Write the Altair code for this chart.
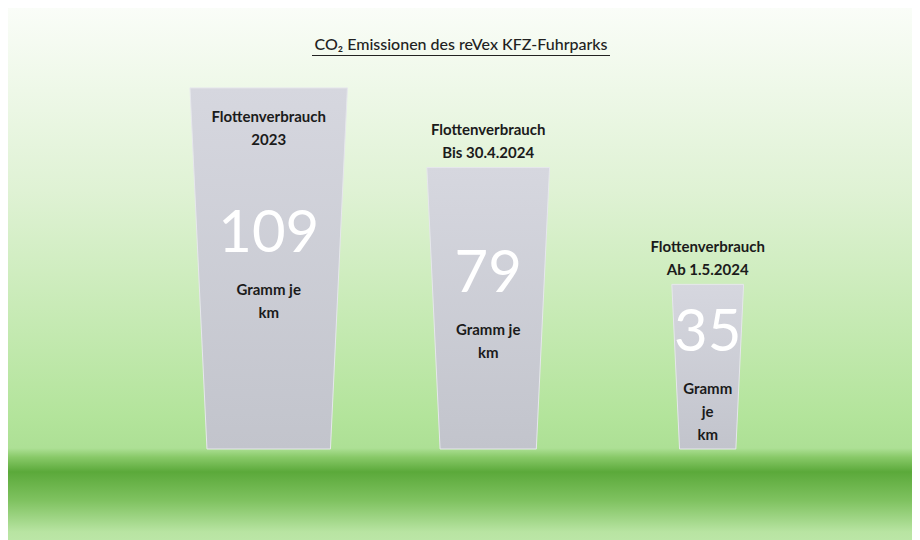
import altair as alt
import pandas as pd

# ---- data ----
categories = ["Flottenverbrauch\n2023", "Flottenverbrauch\nBis 30.4.2024", "Flottenverbrauch\nAb 1.5.2024"]
values = [109, 79, 35]
units = ["Gramm je\nkm", "Gramm je\nkm", "Gramm\nje\nkm"]
title_text = "CO\u2082 Emissionen des reVex KFZ-Fuhrparks"

df = pd.DataFrame({"cat": categories, "v": values, "unit": units})

W, H = 904, 540
BASE = -27  # value at which the pictogram pillars stand

xscale = alt.Scale(type="point", domain=categories, range=[260.7, 699.7], padding=0)
yscale = alt.Scale(domain=[-64.29, 139.1], nice=False, zero=False)

# background gradient
bg = alt.Chart(alt.Data(values=[{"a": 1}])).mark_rect(
    fill=alt.Gradient(
        gradient="linear", x1=0, y1=0, x2=0, y2=1,
        stops=[
            alt.GradientStop(offset=0.0, color="#fafdf8"),
            alt.GradientStop(offset=0.34, color="#dff2d4"),
            alt.GradientStop(offset=0.757, color="#b3e49b"),
            alt.GradientStop(offset=0.815, color="#ade095"),
            alt.GradientStop(offset=0.832, color="#88c968"),
            alt.GradientStop(offset=0.859, color="#5ba93a"),
            alt.GradientStop(offset=0.912, color="#7fc260"),
            alt.GradientStop(offset=0.97, color="#b8e4a2"),
            alt.GradientStop(offset=1.0, color="#bfe8aa"),
        ],
    )
).encode(x=alt.value(0), x2=alt.value(W), y=alt.value(0), y2=alt.value(H))

base = alt.Chart(df).transform_calculate(
    base=str(BASE),
    h=f"datum.v - ({BASE})",
    mid=f"(datum.v + ({BASE})) / 2",
)

pillar_path = "M -0.436 -2 L 0.436 -2 L 0.342 0 L -0.342 0 Z"

pillars = base.mark_point(
    shape=pillar_path,
    filled=True,
    opacity=1,
    fill=alt.Gradient(
        gradient="linear", x1=0, y1=0, x2=0, y2=1,
        stops=[
            alt.GradientStop(offset=0.0, color="#d6d7df"),
            alt.GradientStop(offset=1.0, color="#c2c4cc"),
        ],
    ),
    stroke="#e6e7ec",
    strokeWidth=1,
).encode(
    x=alt.X("cat:N", scale=xscale, axis=None),
    y=alt.Y("base:Q", scale=yscale, axis=None),
    size=alt.Size("h:Q", scale=alt.Scale(type="pow", exponent=2, domain=[0, 100], range=[0, 70490]), legend=None),
)

label_font = "Lato"

labels_inside = base.transform_joinaggregate(vmax="max(v)").transform_filter(
    "datum.v == datum.vmax"
).mark_text(
    font=label_font, fontSize=15, fontWeight="bold", color="#1b1b1b",
    lineBreak="\n", lineHeight=23, baseline="middle", dy=29.5,
).encode(
    x=alt.X("cat:N", scale=xscale, axis=None),
    y=alt.Y("v:Q", scale=yscale, axis=None),
    text="cat:N",
)

labels_above = base.transform_joinaggregate(vmax="max(v)").transform_filter(
    "datum.v < datum.vmax"
).mark_text(
    font=label_font, fontSize=15, fontWeight="bold", color="#1b1b1b",
    lineBreak="\n", lineHeight=23, baseline="middle", dy=-37.5,
).encode(
    x=alt.X("cat:N", scale=xscale, axis=None),
    y=alt.Y("v:Q", scale=yscale, axis=None),
    text="cat:N",
)

numbers = base.mark_text(
    font="Lato", fontSize=58, color="#ffffff", baseline="middle", dy=-33,
).encode(
    x=alt.X("cat:N", scale=xscale, axis=None),
    y=alt.Y("mid:Q", scale=yscale, axis=None),
    text="v:Q",
)

unit_text = base.mark_text(
    font=label_font, fontSize=15, fontWeight="bold", color="#1b1b1b",
    lineBreak="\n", lineHeight=23, baseline="middle", dy=22,
).encode(
    x=alt.X("cat:N", scale=xscale, axis=None),
    y=alt.Y("mid:Q", scale=yscale, axis=None),
    text="unit:N",
)

title = alt.Chart(alt.Data(values=[{"t": title_text}])).mark_text(
    font="Lato", fontSize=16, fontWeight=500, color="#222222", baseline="alphabetic", align="center",
).encode(x=alt.value(453), y=alt.value(42), text="t:N")

underline = alt.Chart(alt.Data(values=[{"a": 1}])).mark_rule(
    color="#222222", strokeWidth=1
).encode(x=alt.value(304), x2=alt.value(602), y=alt.value(47.5))

chart = alt.layer(
    bg, pillars, labels_inside, labels_above, numbers, unit_text, title, underline
).resolve_scale(x="shared", y="shared").properties(
    width=W, height=H,
    autosize=alt.AutoSizeParams(type="none"),
    padding=0,
    background="#ffffff",
).configure_view(stroke=None)

chart.save("out.html", embed_options={"renderer": "svg", "actions": False})
